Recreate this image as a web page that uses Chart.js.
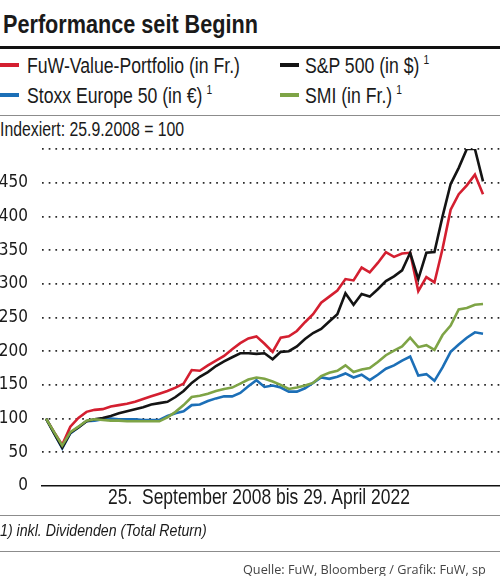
<!DOCTYPE html>
<html>
<head>
<meta charset="utf-8">
<script src="https://cdn.jsdelivr.net/npm/chart.js@4.4.1/dist/chart.umd.min.js"></script>
<style>
  html, body { margin: 0; padding: 0; background: #fff; }
  body { width: 500px; height: 576px; position: relative; overflow: hidden;
         font-family: "Liberation Sans", Arial, sans-serif; color: #1a1a1a; }
  .abs { position: absolute; white-space: pre; line-height: 1; transform: scaleX(0.82); transform-origin: 0 0; }
  .title { left: 3px; top: 11px; font-size: 26.4px; font-weight: bold; }
  .rule { position: absolute; left: 0; width: 500px; }
  .leg { font-size: 21.5px; }
  .sw { position: absolute; width: 19px; height: 4px; }
  .sup { font-size: 12.5px; position: relative; top: -8.5px; margin-left: 5px; }
  .idx { left: 0; top: 119.5px; font-size: 19.3px; }
  .xt { left: 108px; top: 486.8px; font-size: 21.3px; }
  .fn { left: 0; top: 521.7px; font-size: 17.3px; font-style: italic; }
  .src { position: absolute; white-space: pre; line-height: 1; left: 243px; top: 563px; font-family: "Open Sans", sans-serif; font-size: 12.7px; color: #444; }
  #wrap { position: absolute; left: 0; top: 140px; width: 500px; height: 360px; }
</style>
</head>
<body>
<div class="abs title">Performance seit Beginn</div>
<div class="rule" style="top:46px;height:3px;background:#111;"></div>

<div class="sw" style="left:0;top:63px;background:#d41f30;"></div>
<div class="abs leg" style="left:27px;top:55.8px;">FuW-Value-Portfolio (in Fr.)</div>
<div class="sw" style="left:280px;top:63px;background:#141414;"></div>
<div class="abs leg" style="left:305px;top:55.8px;">S&amp;P 500 (in $)<span class="sup">1</span></div>
<div class="sw" style="left:0;top:93px;background:#1c6fb7;"></div>
<div class="abs leg" style="left:27px;top:85.8px;">Stoxx Europe 50 (in €)<span class="sup">1</span></div>
<div class="sw" style="left:280px;top:93px;background:#7ea446;"></div>
<div class="abs leg" style="left:305px;top:85.8px;">SMI (in Fr.)<span class="sup">1</span></div>

<div class="rule" style="top:114.5px;height:1.2px;background:#8c8c8c;"></div>
<div class="abs idx">Indexiert: 25.9.2008 = 100</div>

<div id="wrap"><canvas id="c"></canvas></div>

<div class="abs xt">25.  September 2008 bis 29. April 2022</div>
<div class="rule" style="top:515px;height:1.2px;background:#8c8c8c;"></div>
<div class="abs fn">1) inkl. Dividenden (Total Return)</div>
<div class="rule" style="top:550.5px;height:1.2px;background:#8c8c8c;"></div>
<div class="src">Quelle: FuW, Bloomberg / Grafik: FuW, sp</div>

<script>
const quarters = [
  "2008-09","2008-12","2009-03","2009-06","2009-09","2009-12","2010-03","2010-06","2010-09","2010-12",
  "2011-03","2011-06","2011-09","2011-12","2012-03","2012-06","2012-09","2012-12","2013-03","2013-06",
  "2013-09","2013-12","2014-03","2014-06","2014-09","2014-12","2015-03","2015-06","2015-09","2015-12",
  "2016-03","2016-06","2016-09","2016-12","2017-03","2017-06","2017-09","2017-12","2018-03","2018-06",
  "2018-09","2018-12","2019-03","2019-06","2019-09","2019-12","2020-03","2020-06","2020-09","2020-12",
  "2021-03","2021-06","2021-09","2021-12","2022-04"
];
const fuwValue = [100,80,61,88,101,110,113,114,118,120,122,125,129,133,137,141,146,152,172,171,179,186,193,203,212,219,222,211,199,220,222,230,243,255,272,281,290,307,305,324,317,331,347,340,345,346,289,310,302,352,410,433,446,462,433];
const sp500 = [100,78,57,79,87,96,99,101,104,108,111,114,117,121,123,125,132,141,153,162,169,178,185,191,197,197,196,197,188,199,200,207,218,227,233,244,255,286,269,285,281,292,304,311,320,346,307,346,347,400,448,472,500,500,452];
const stoxx50 = [100,78,56,78,87,96,97,99,100,99,99,99,98,98,98,104,108,111,120,121,126,130,133,133,138,148,157,147,149,146,140,140,145,153,161,159,162,167,161,165,157,165,174,179,186,192,164,166,156,176,199,210,220,228,226];
const smi = [100,80,60,80,88,97,99,98,97,97,96,96,96,96,96,102,110,120,132,134,137,141,144,146,152,158,161,159,155,150,144,146,149,153,163,168,171,179,169,173,175,184,194,201,207,220,206,209,202,224,238,262,264,269,270];
const yTicks = [0,50,100,150,200,250,300,350,400,450];

const toXY = arr => arr.map((v, i) => ({ x: i, y: v }));
const mk = (label, data, color) => ({
  label, data: toXY(data), borderColor: color, backgroundColor: color,
  borderWidth: 2.6, pointRadius: 0, tension: 0, fill: false
});

new Chart(document.getElementById('c'), {
  type: 'line',
  data: {
    labels: quarters,
    datasets: [
      mk('SMI (in Fr.)', smi, '#7ea446'),
      mk('S&P 500 (in $)', sp500, '#141414'),
      mk('Stoxx Europe 50 (in €)', stoxx50, '#1c6fb7'),
      mk('FuW-Value-Portfolio (in Fr.)', fuwValue, '#d41f30')
    ]
  },
  options: {
    responsive: true, maintainAspectRatio: false, animation: false,
    layout: { padding: { top: 9, bottom: 14, left: 0, right: 0 } },
    plugins: { legend: { display: false }, tooltip: { enabled: false } },
    scales: {
      x: {
        type: 'linear', min: -0.5, max: 56.1,
        ticks: { display: false },
        grid: { display: true, drawOnChartArea: false, drawTicks: false },
        border: { display: true, color: '#111', width: 1.6 }
      },
      y: {
        min: 0, max: 500,
        afterBuildTicks: s => { s.ticks = yTicks.concat([500]).map(v => ({ value: v })); },
        afterFit: s => { s.width = 42; s.paddingTop = 0; s.paddingBottom = 0; },
        ticks: {
          padding: 14, color: '#1a1a1a',
          font: { family: '"DejaVu Sans Condensed", sans-serif', size: 17 },
          callback: v => (yTicks.includes(v) ? String(v) : '')
        },
        grid: {
          drawTicks: false, lineWidth: 1.7,
          color: c => (c.tick && c.tick.value === 0 ? 'rgba(0,0,0,0)' : '#2a2a2a')
        },
        border: { display: false, dash: [1.7, 5.0] }
      }
    }
  }
});
</script>
</body>
</html>
